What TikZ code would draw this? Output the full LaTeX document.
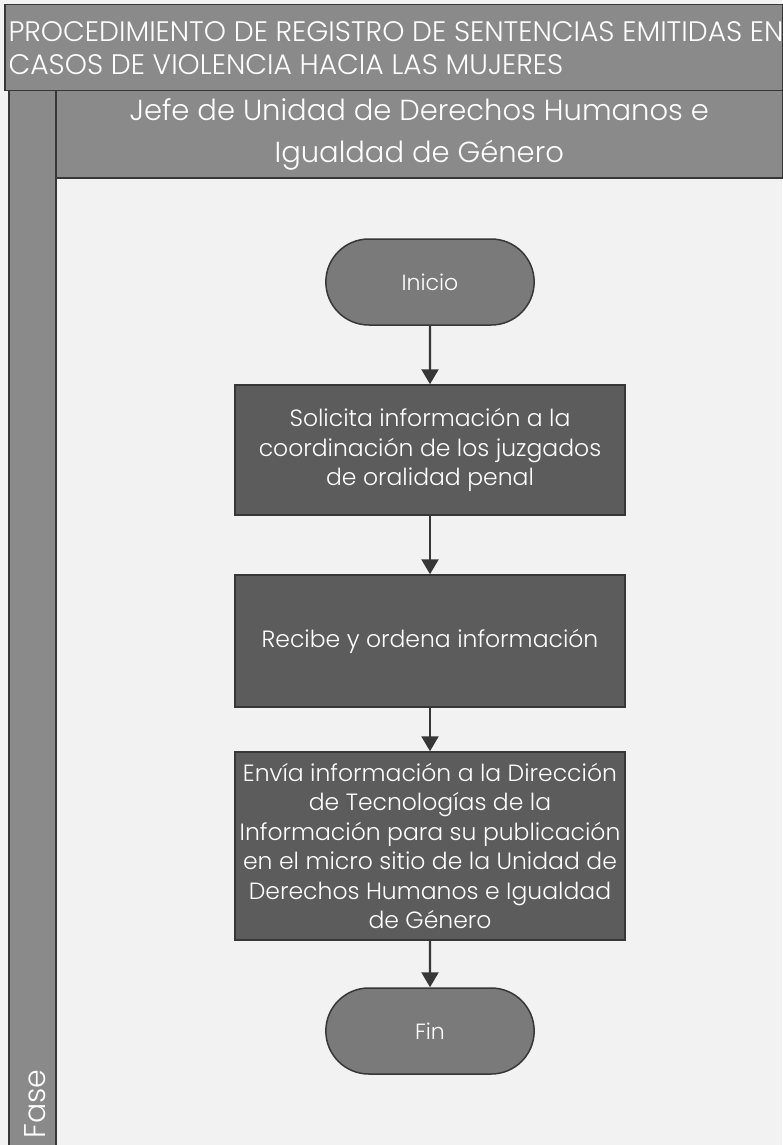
\documentclass[tikz,border=0pt]{standalone}
\usepackage{fontspec}
\setmainfont{Poppins}[UprightFont=* Light]
\usetikzlibrary{shapes.misc,arrows.meta}
\definecolor{banda}{RGB}{138,138,138}
\definecolor{fondo}{RGB}{242,242,242}
\definecolor{borde}{RGB}{55,55,55}
\definecolor{caja}{RGB}{92,92,92}
\definecolor{term}{RGB}{122,122,122}
\tikzset{
	bandagris/.style={draw=borde,line width=1.5pt,fill=banda,text=white,anchor=north west,inner sep=0pt},
	proceso/.style={draw=borde,line width=1.5pt,fill=caja,text=white,minimum width=390pt,minimum height=130pt,align=center,inner sep=1pt,font=\fontsize{23.5}{29.5}\selectfont},
	terminal/.style={rounded rectangle,draw=borde,line width=1.5pt,fill=term,text=white,minimum width=215pt,minimum height=86pt,font=\fontsize{22}{26}\selectfont},
	flecha/.style={-{Triangle[length=15pt,width=17pt]},line width=2.4pt,draw=borde}
}
\begin{document}
\begin{tikzpicture}[x=1pt,y=-1pt]
	\useasboundingbox (0,0) rectangle (782,1145);
	\fill[fondo] (0,0) rectangle (782,1145);
	%Titulo
	\node[bandagris,minimum width=778pt,minimum height=86pt] (titulo) at (4,4) {};
	\node[text=white,anchor=west,align=left,font=\fontsize{28.2}{33}\selectfont] (textotitulo) at (5,48)
		{PROCEDIMIENTO DE REGISTRO DE SENTENCIAS EMITIDAS EN\\CASOS DE VIOLENCIA HACIA LAS MUJERES};
	%Fase
	\node[bandagris,minimum width=47pt,minimum height=1056pt] (fase) at (8,90) {};
	\node[text=white,rotate=90,anchor=west,font=\fontsize{30}{34}\selectfont] (textofase) at (35,1142) {Fase};
	%Encabezado
	\node[bandagris,minimum width=727pt,minimum height=87pt,align=center,font=\fontsize{29}{42}\selectfont] (jefe) at (55,90)
		{Jefe de Unidad de Derechos Humanos e\\Igualdad de Género};
	%Flujo
	\node[terminal] (inicio) at (430,282) {Inicio};
	\node[proceso] (solicita) at (430,450)
		{Solicita información a la\\coordinación de los juzgados\\de oralidad penal};
	\node[proceso,minimum height=132pt] (recibe) at (430,641) {Recibe y ordena información};
	\node[proceso,minimum height=188pt] (envia) at (430,846)
		{Envía información a la Dirección\\de Tecnologías de la\\Información para su publicación\\en el micro sitio de la Unidad de\\Derechos Humanos e Igualdad\\de Género};
	\node[terminal] (fin) at (430,1031) {Fin};
	%Flechas
	\draw[flecha] (inicio) -- (solicita);
	\draw[flecha] (solicita) -- (recibe);
	\draw[flecha] (recibe) -- (envia);
	\draw[flecha] (envia) -- (fin);
\end{tikzpicture}
\end{document}
